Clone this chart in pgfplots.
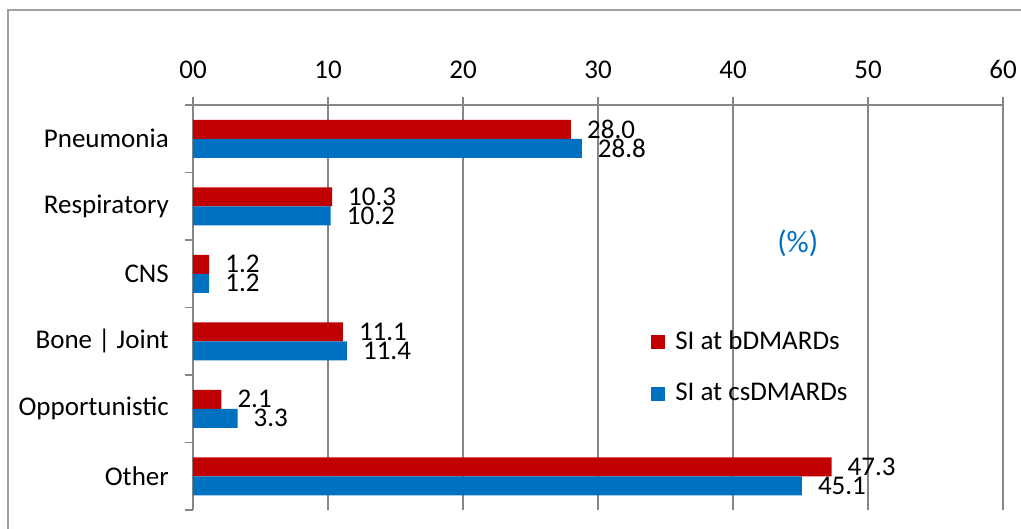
\documentclass[border=0pt]{standalone}
\usepackage{pgfplots}
\pgfplotsset{compat=1.18}
\usepackage{fontspec}
\setmainfont{Carlito}
\definecolor{barred}{RGB}{192,0,0}
\definecolor{barblue}{RGB}{0,112,192}
\definecolor{gridgray}{RGB}{134,134,134}
\definecolor{framegray}{RGB}{160,160,160}
\begin{document}
\fontsize{27}{32}\selectfont
\begin{tikzpicture}
\path[use as bounding box] (-193pt,-19pt) rectangle (828pt,510pt);
\draw[draw=framegray, line width=1.5pt] (-185pt,-60pt) rectangle (860pt,500pt);
\begin{axis}[
 anchor=south west, at={(0pt,0pt)},
 scale only axis, width=810pt, height=405pt,
 xbar, bar width=19pt,
 xmin=0, xmax=60, ymin=-0.5, ymax=5.5, y dir=reverse,
 axis x line*=top, axis y line*=left,
 axis line style={draw=gridgray, line width=1.3pt},
 xtick={0,10,...,60}, xticklabels={00,10,20,30,40,50,60},
 xticklabel style={yshift=9pt},
 xmajorgrids, grid style={draw=gridgray, line width=1.3pt},
 ytick={-0.5,0.5,...,5.5}, yticklabels={},
 extra y ticks={0,1,2,3,4,5},
 extra y tick labels={Pneumonia,Respiratory,CNS,Bone | Joint,Opportunistic,Other},
 extra y tick style={tick style={draw=none}},
 yticklabel style={xshift=-7pt},
 tick align=outside, major tick length=8pt,
 tick style={draw=gridgray, line width=1.3pt},
 /pgf/number format/assume math mode=true,
 point meta=x,
 nodes near coords={\pgfmathprintnumber[fixed,fixed zerofill,precision=1]{\pgfplotspointmeta}},
 every node near coord/.append style={anchor=west, inner sep=0pt, xshift=16pt, text=black},
 legend style={draw=none, fill=none, at={(axis cs:33.93,3.389)}, anchor=west, inner xsep=0pt, row sep=26pt, column sep=8pt},
 legend cell align=left,
 legend image code/.code={\fill[#1] (0pt,-7pt) rectangle (14pt,7pt);},
]
\addplot[fill=barred, draw=none, bar shift=9.5pt] coordinates {(28.0,0) (10.3,1) (1.2,2) (11.1,3) (2.1,4) (47.3,5)};
\addplot[fill=barblue, draw=none, bar shift=-9.5pt] coordinates {(28.8,0) (10.2,1) (1.2,2) (11.4,3) (3.3,4) (45.1,5)};
\legend{SI at bDMARDs, SI at csDMARDs}
\node[text=barblue, font=\fontsize{31}{37}\selectfont] at (axis cs:44.8,1.544) {(\%)};
\end{axis}
\end{tikzpicture}
\end{document}
